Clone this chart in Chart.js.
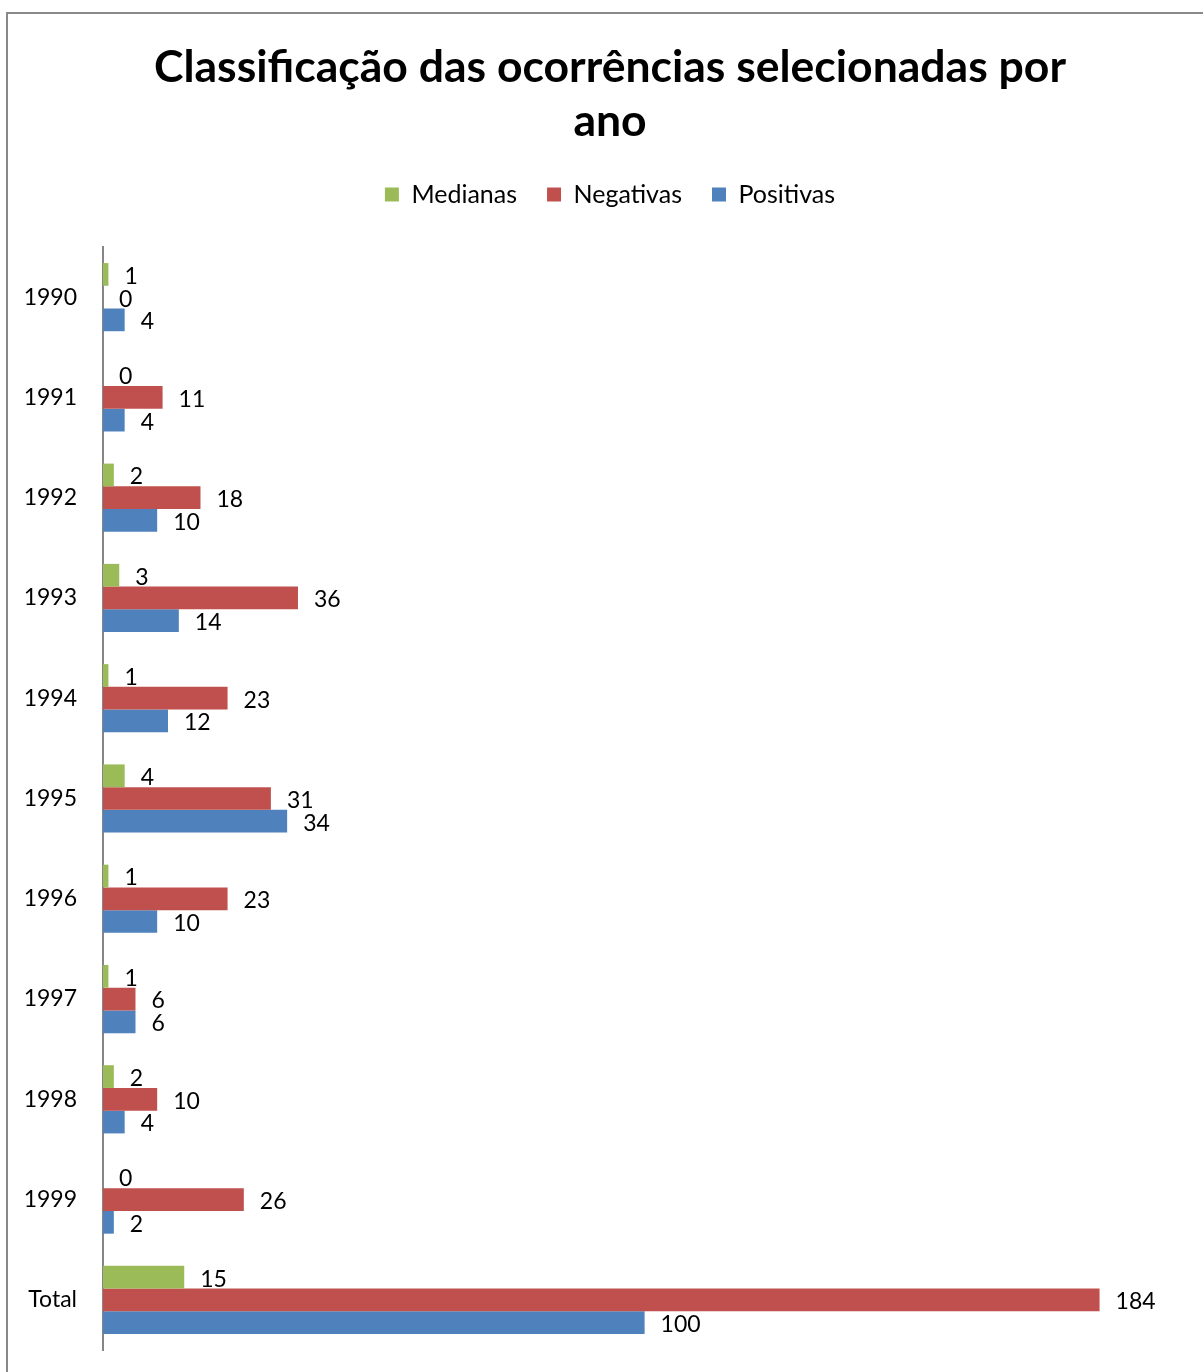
<!DOCTYPE html>
<html>
<head>
<meta charset="utf-8">
<script src="https://cdn.jsdelivr.net/npm/chart.js@4.4.1/dist/chart.umd.min.js"></script>
<style>
  html, body { margin: 0; padding: 0; background: #fff; }
  #wrap { position: relative; width: 1203px; height: 1372px; overflow: hidden; }
  #frame { position: absolute; left: 6px; top: 12px; width: 1400px; height: 1500px; border: 2px solid #898989; box-sizing: border-box; }
  #myChart { position: absolute; left: 0; top: 0; }
</style>
</head>
<body>
<div id="wrap">
  <div id="frame"></div>
  <canvas id="myChart" width="1203" height="1372"></canvas>
</div>
<script>
// categories and series
const years = ['1990', '1991', '1992', '1993', '1994', '1995', '1996', '1997', '1998', '1999', 'Total'];
const medianas = [1, 0, 2, 3, 1, 4, 1, 1, 2, 0, 15];
const negativas = [0, 11, 18, 36, 23, 31, 23, 6, 10, 26, 184];
const positivas = [4, 4, 10, 14, 12, 34, 10, 6, 4, 2, 100];

const FONT = 'Lato, "Open Sans", sans-serif';
Chart.defaults.color = '#000';
Chart.defaults.font.family = FONT;

// draws the value next to the end of every bar
const valueLabels = {
    id: 'valueLabels',
    afterDatasetsDraw(chart) {
        const ctx = chart.ctx;
        ctx.save();
        ctx.font = '23px ' + FONT;
        ctx.fillStyle = '#000';
        ctx.textAlign = 'left';
        ctx.textBaseline = 'middle';
        chart.data.datasets.forEach((ds, i) => {
            chart.getDatasetMeta(i).data.forEach((bar, j) => {
                ctx.fillText(String(ds.data[j]), bar.x + 16, bar.y + 2);
            });
        });
        ctx.restore();
    }
};

const ctx = document.getElementById('myChart').getContext('2d');

const chart = new Chart(ctx, {
    type: 'bar',
    data: {
        labels: years,
        datasets: [
            { label: 'Medianas', data: medianas, backgroundColor: '#9BBB59' },
            { label: 'Negativas', data: negativas, backgroundColor: '#C0504D' },
            { label: 'Positivas', data: positivas, backgroundColor: '#4F81BD' }
        ]
    },
    options: {
        indexAxis: 'y',
        responsive: false,
        animation: false,
        categoryPercentage: 0.68,
        barPercentage: 1.0,
        // negative right padding shifts title/legend centre like the cropped original
        layout: { padding: { left: 0, right: -17, top: 0, bottom: 22 } },
        scales: {
            x: {
                position: 'top',
                min: 0,
                max: 203.1,
                grid: { display: false },
                border: { display: false },
                ticks: { display: false },
                afterFit: s => { s.height = 30; }
            },
            y: {
                grid: { display: false, drawTicks: false },
                border: { display: true, color: '#868686', width: 2 },
                ticks: { padding: 26, font: { size: 23 }, color: '#000' },
                afterFit: s => {
                    s.width = 103;
                    s.paddingTop = 0;
                    s.paddingBottom = 0;
                }
            }
        },
        plugins: {
            title: {
                display: true,
                text: ['Classificação das ocorrências selecionadas por', 'ano'],
                font: { size: 44.5, weight: 'bold', lineHeight: 1.2135 },
                color: '#000',
                padding: { top: 41, bottom: 3 }
            },
            legend: {
                labels: {
                    boxWidth: 14,
                    boxHeight: 14,
                    padding: 30,
                    font: { size: 25 },
                    color: '#000'
                }
            },
            tooltip: { enabled: false }
        }
    },
    plugins: [valueLabels]
});
</script>
</body>
</html>
